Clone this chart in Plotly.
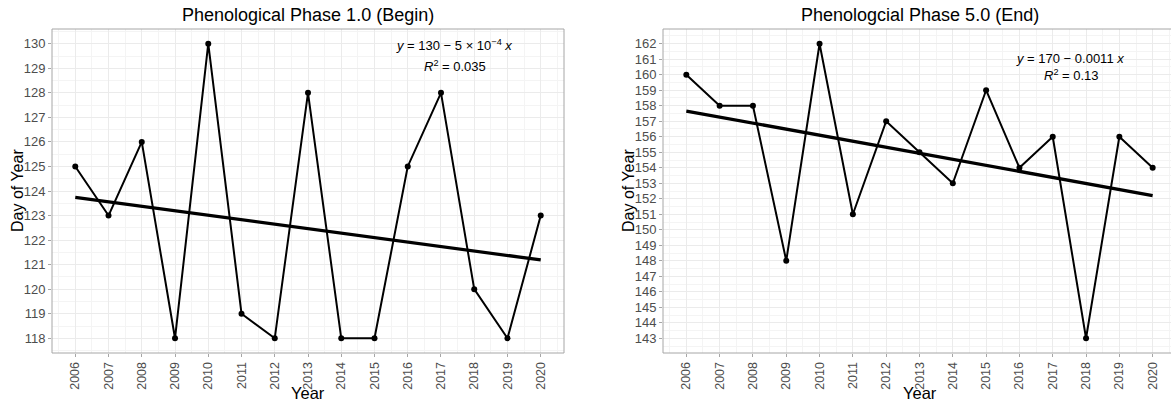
import numpy as np
import plotly.graph_objects as go

# Observation years and day-of-year values for the two phenological phases
years = list(range(2006, 2021))
phase1_doy = [125, 123, 126, 118, 130, 119, 118, 128, 118, 118, 125, 128, 120, 118, 123]
phase5_doy = [160, 158, 158, 148, 162, 151, 157, 155, 153, 159, 154, 156, 143, 156, 154]

titles = ["Phenological Phase 1.0 (Begin)", "Phenologcial Phase 5.0 (End)"]
eq_lines = [
    ["<i>y</i> = 130 \u2212 5 \u00d7 10<sup>\u22124</sup> <i>x</i>", "<i>R</i><sup>2</sup> = 0.035"],
    ["<i>y</i> = 170 \u2212 0.0011 <i>x</i>", "<i>R</i><sup>2</sup> = 0.13"],
]
y_ticks = [list(range(118, 131)), list(range(143, 163))]

W, H = 1171, 403
FONT = "Liberation Sans, Arial, sans-serif"
GRID = "#EBEBEB"
MINOR = "#F4F4F4"
BORDER = "#A6A6A6"
TICKTXT = "#4D4D4D"

# panel pixel boxes (left, right, top, bottom)
panels = [(52, 564, 29, 353), (663, 1171, 29, 353)]
x_ranges = [[2005.3, 2020.7], [2005.3, 2005.3 + (1171 - 663) / 33.31]]
y_ranges = [[117.4, 130.6], [142.05, 162.95]]

fig = go.Figure()
series = [phase1_doy, phase5_doy]

for i, vals in enumerate(series):
    xa = "x" if i == 0 else "x2"
    ya = "y" if i == 0 else "y2"
    # observed values
    fig.add_trace(go.Scatter(
        x=years, y=vals, mode="lines+markers",
        line=dict(color="black", width=2),
        marker=dict(color="black", size=6),
        xaxis=xa, yaxis=ya, showlegend=False, hoverinfo="x+y",
    ))
    # least-squares trend line
    slope, intercept = np.polyfit(years, vals, 1)
    xs = [years[0], years[-1]]
    fig.add_trace(go.Scatter(
        x=xs, y=[slope * v + intercept for v in xs], mode="lines",
        line=dict(color="black", width=3.3),
        xaxis=xa, yaxis=ya, showlegend=False, hoverinfo="skip",
    ))

layout = dict(
    width=W, height=H,
    margin=dict(l=0, r=0, t=0, b=0),
    paper_bgcolor="white", plot_bgcolor="white",
    font=dict(family=FONT, color="black"),
    showlegend=False,
)

for i, (l, r, t, b) in enumerate(panels):
    sfx = "" if i == 0 else "2"
    xdom = [l / W, r / W]
    ydom = [1 - b / H, 1 - t / H]
    layout["xaxis" + sfx] = dict(
        domain=xdom, range=x_ranges[i], anchor="y" + sfx,
        tickmode="array", tickvals=years, ticktext=[str(v) for v in years],
        tickangle=-90, tickfont=dict(size=12.5, color=TICKTXT, family=FONT),
        ticks="outside", ticklen=3, tickcolor=BORDER,
        showgrid=True, gridcolor=GRID, gridwidth=1, zeroline=False,
        minor=dict(tickmode="linear", tick0=2005.5, dtick=1, showgrid=True,
                   gridcolor=MINOR, gridwidth=1, ticks=""),
        showline=False,
    )
    layout["yaxis" + sfx] = dict(
        domain=ydom, range=y_ranges[i], anchor="x" + sfx,
        tickmode="array", tickvals=y_ticks[i], ticktext=[str(v) for v in y_ticks[i]],
        tickfont=dict(size=13, color=TICKTXT, family=FONT),
        ticks="outside", ticklen=3, tickcolor=BORDER,
        showgrid=True, gridcolor=GRID, gridwidth=1, zeroline=False,
        minor=dict(tickmode="linear", tick0=y_ticks[i][0] - 0.5, dtick=1, showgrid=True,
                   gridcolor=MINOR, gridwidth=1, ticks=""),
        showline=False,
    )

fig.update_layout(**layout)

shapes = []
annotations = []
ytitle_x = [18, 629]
for i, (l, r, t, b) in enumerate(panels):
    sfx = "" if i == 0 else "2"
    x1 = 1 if i == 0 else 1.05
    shapes.append(dict(type="rect", xref=f"x{sfx} domain", yref=f"y{sfx} domain",
                       x0=0, x1=x1, y0=0, y1=1, line=dict(color=BORDER, width=1),
                       fillcolor="rgba(0,0,0,0)", layer="above"))
    cx = (l + (r if i == 0 else 1176)) / 2
    annotations.append(dict(text=titles[i], xref="paper", yref="paper",
                            x=cx / W, y=1 - 15 / H, showarrow=False,
                            xanchor="center", yanchor="middle",
                            font=dict(size=18, family=FONT, color="black")))
    # axis titles
    annotations.append(dict(text="Year", xref="paper", yref="paper",
                            x=cx / W, y=1 - 393 / H, showarrow=False,
                            xanchor="center", yanchor="middle",
                            font=dict(size=16.5, family=FONT, color="black")))
    annotations.append(dict(text="Day of Year", xref="paper", yref="paper",
                            x=ytitle_x[i] / W, y=1 - ((t + b) / 2) / H, showarrow=False,
                            xanchor="center", yanchor="middle", textangle=-90,
                            font=dict(size=16, family=FONT, color="black")))

eq_pos = [((454, 45), (455, 66)), ((1070, 59), (1071, 75))]
for i, lines in enumerate(eq_lines):
    for txt, (px, py) in zip(lines, eq_pos[i]):
        annotations.append(dict(text=txt, xref="paper", yref="paper",
                                x=px / W, y=1 - py / H, showarrow=False,
                                xanchor="center", yanchor="middle",
                                font=dict(size=13, family=FONT, color="black")))

fig.update_layout(shapes=shapes, annotations=annotations)
fig.write_html("out.html")
